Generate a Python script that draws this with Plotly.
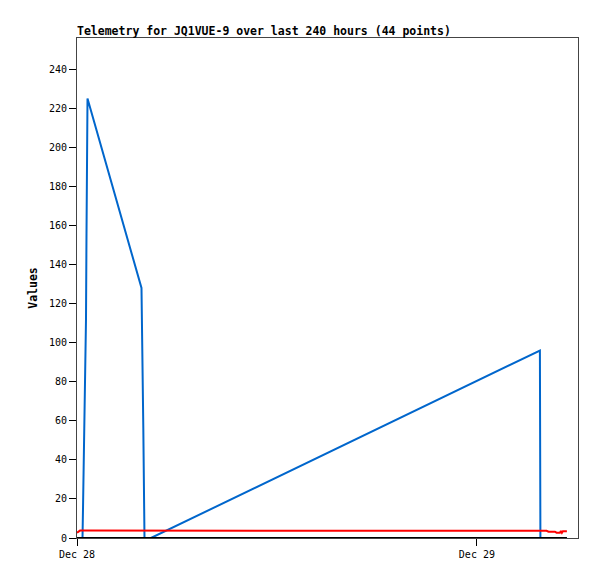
import pandas as pd
import plotly.graph_objects as go

# hours after Dec 28 00:00 for each of the telemetry samples
hours = [0.00, 0.06, 0.12, 0.18, 0.24, 0.30, 0.33, 0.36, 0.42, 0.46,
         0.51, 0.54, 0.57, 0.63, 3.87, 3.90, 3.94, 3.98, 4.05, 4.20,
         4.44, 27.78, 27.81, 27.88, 27.96, 28.06, 28.18, 28.30, 28.38, 28.52,
         28.68, 28.78, 28.86, 28.98, 29.04, 29.10, 29.16, 29.22, 29.28, 29.34,
         29.37, 29.38, 29.39, 29.40]

blue_vals = [0, 0, 0, 0, 0, 0, 0, 15, 44, 68,
             96, 112, 156, 225, 128, 111, 80, 56, 0, 0,
             0, 96, 0, 0, 0, 0, 0, 0, 0, 0,
             0, 0, 0, 0, 0, 0, 0, 0, 0, 0,
             0, 0, 0, 0]

red_vals = [2.7, 3.2, 3.6, 3.8, 3.8, 3.8, 3.8, 3.8, 3.8, 3.8,
            3.8, 3.8, 3.8, 3.8, 3.8, 3.8, 3.8, 3.8, 3.8, 3.8,
            3.8, 3.8, 3.8, 3.8, 3.7, 3.7, 3.7, 3.2, 3.2, 3.2,
            3.2, 2.7, 2.7, 2.7, 3.6, 2.7, 3.5, 3.5, 3.5, 3.5,
            3.5, 3.5, 3.5, 3.5]

black_vals = [0] * len(hours)

start = pd.Timestamp("2023-12-28 00:00")
times = [start + pd.Timedelta(hours=h) for h in hours]

mono = "DejaVu Sans Mono"

fig = go.Figure()
fig.add_trace(go.Scatter(x=times, y=blue_vals, mode="lines", line=dict(color="#0066cc", width=2)))
fig.add_trace(go.Scatter(x=times, y=red_vals, mode="lines", line=dict(color="#ff0000", width=2)))
fig.add_trace(go.Scatter(x=times, y=black_vals, mode="lines", line=dict(color="#000000", width=2)))

# page body has an 8px margin, so the figure is drawn offset by (8, 8)
fig.update_layout(
    width=581, height=563,
    margin=dict(l=69, r=11, t=30, b=33),
    paper_bgcolor="white", plot_bgcolor="white",
    showlegend=False,
    font=dict(family=mono, size=10, color="black"),
    title=dict(text="<b>Telemetry for JQ1VUE-9 over last 240 hours (44 points)</b>",
               x=69 / 581, xanchor="left", xref="container",
               y=1 - 23 / 563, yanchor="middle", yref="container",
               font=dict(family=mono, size=11.5, color="black")),
)
fig.update_xaxes(
    type="date", range=["2023-12-28 00:00", "2023-12-29 06:04"],
    tickvals=["2023-12-28", "2023-12-29"], ticktext=["Dec 28", "Dec 29"],
    ticks="outside", ticklen=7, tickcolor="black",
    showgrid=False, zeroline=False,
    showline=True, linecolor="#444444", mirror=True,
)
fig.update_yaxes(
    range=[0, 256], tickvals=list(range(0, 241, 20)),
    ticks="outside", ticklen=7, tickcolor="black",
    showgrid=False, zeroline=False,
    showline=True, linecolor="#444444", mirror=True,
    title=dict(text="<b>Values</b>", font=dict(family=mono, size=11.5), standoff=8),
)

fig.write_html("out.html")
